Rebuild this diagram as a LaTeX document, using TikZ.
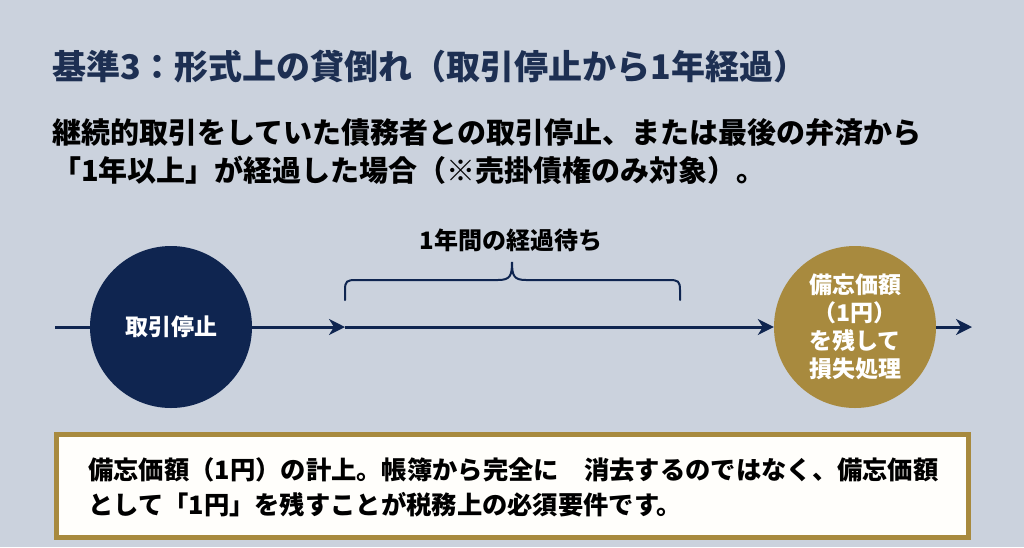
\documentclass[tikz,border=0pt]{standalone}
\usepackage{fontspec}
\setmainfont{Noto Sans CJK JP}
\usetikzlibrary{arrows.meta}
\definecolor{bgc}{HTML}{CBD2DD}
\definecolor{navy}{HTML}{0F2550}
\definecolor{titlec}{HTML}{1D2F52}
\definecolor{gold}{HTML}{A88A3E}
\definecolor{boxfill}{HTML}{FFFEFB}
\tikzset{
  flow/.style={draw=navy, line width=3pt, -{Stealth[length=16pt,width=16pt,inset=5pt]}},
  plainline/.style={draw=navy, line width=3pt},
  stage/.style={circle, minimum size=162pt, inner sep=0pt, text=white, font=\bfseries\fontsize{23}{28}\selectfont, align=center},
  bodytext/.style={anchor=west, inner sep=0pt, font=\bfseries\fontsize{29}{38}\selectfont, align=left},
}
\begin{document}
\begin{tikzpicture}[x=1pt,y=-1pt]
\fill[bgc] (0,0) rectangle (1024,547);
\useasboundingbox (0,0) rectangle (1024,547);
% title
\node[anchor=west, inner sep=0pt, text=titlec, font=\bfseries\fontsize{34}{40}\selectfont] (title) at (52,67) {基準3：形式上の貸倒れ（取引停止から1年経過）};
\node[bodytext, text=black] (desc) at (52,152) {継続的取引をしていた債務者との取引停止、または最後の弁済から\\「1年以上」が経過した場合（※売掛債権のみ対象）。};
% flow
\coordinate (start) at (55,327);
\node[stage, fill=navy] (stop) at (171,327) {取引停止};
\coordinate (mid) at (345,327);
\node[stage, fill=gold] (loss) at (855,327) {備忘価額\\（1円）\\を残して\\損失処理};
\coordinate (end) at (972,327);
\draw[plainline] (start) -- (stop.west);
\draw[flow] (stop.east) -- (mid);
\draw[flow] (mid) -- (loss.west);
\draw[flow] (loss.east) -- (end);
% brace
\coordinate (bl) at (345,300);
\coordinate (br) at (680,300);
\coordinate (btip) at (512,262);
\draw[navy, line width=2pt, line cap=round]
  (bl) -- (345,290) .. controls (345,281) and (347,280) .. (356,280)
  -- (498,280) .. controls (510,280) and (512,276) .. (btip)
  .. controls (512,276) and (514,280) .. (526,280)
  -- (669,280) .. controls (678,280) and (680,281) .. (680,290) -- (br);
\node[font=\bfseries\fontsize{24}{28}\selectfont, text=black] (wait) at (511,240) {1年間の経過待ち};
% bottom box
\node[draw=gold, line width=5pt, fill=boxfill, minimum width=912pt, minimum height=103pt, inner sep=0pt] (box) at (512,486) {};
\node[bodytext, font=\bfseries\fontsize{25.3}{35}\selectfont, text=black] (note) at (88,487) {備忘価額（1円）の計上。帳簿から完全に　消去するのではなく、備忘価額\\として「1円」を残すことが税務上の必須要件です。};
\end{tikzpicture}
\end{document}
